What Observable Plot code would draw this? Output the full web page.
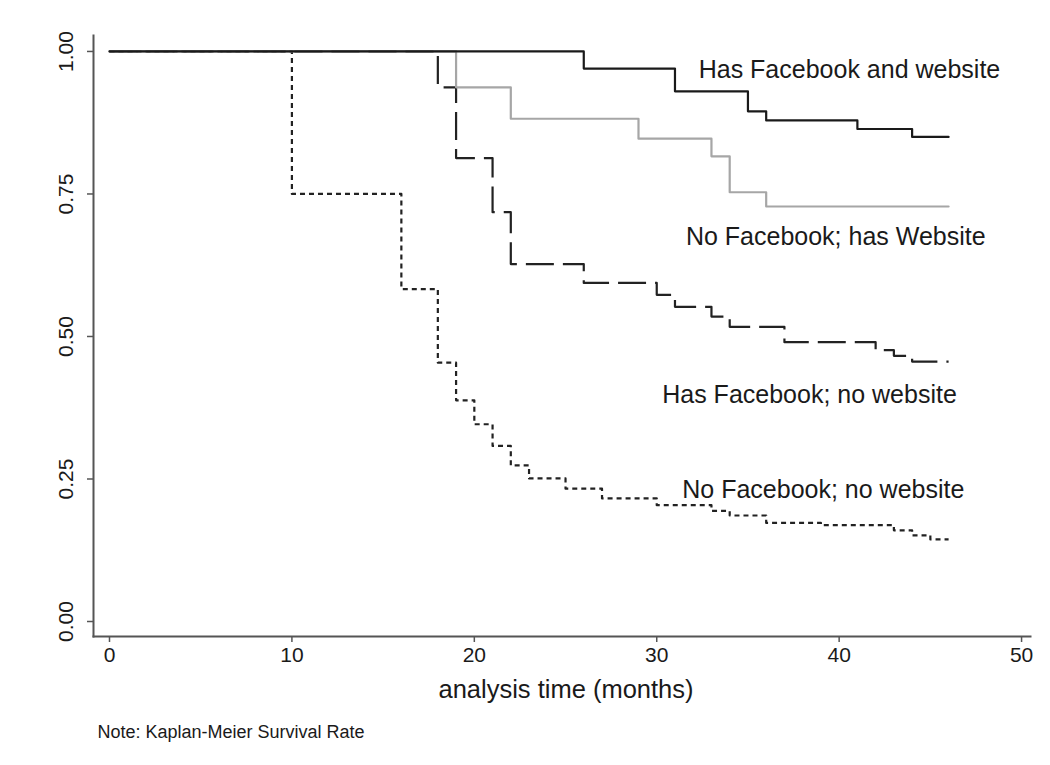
<!DOCTYPE html>
<html>
<head>
<meta charset="utf-8">
<script src="https://cdn.jsdelivr.net/npm/d3@7"></script>
<script src="https://cdn.jsdelivr.net/npm/@observablehq/plot@0.6"></script>
<style>
  html, body { margin: 0; padding: 0; background: #fff; }
  #chart svg { display: block; }
</style>
</head>
<body>
<div id="chart"></div>
<script>
// ---- Data ----
const seriesNames = [
  "Has Facebook and website",
  "No Facebook; has Website",
  "Has Facebook; no website",
  "No Facebook; no website"
];
const fbWebTime = [0, 26, 31, 35, 36, 41, 44, 46];
const fbWebSurv = [1, 0.970, 0.930, 0.895, 0.879, 0.864, 0.850, 0.850];

const noFbWebTime = [0, 19, 22, 29, 33, 34, 36, 46];
const noFbWebSurv = [1, 0.937, 0.882, 0.847, 0.816, 0.753, 0.728, 0.728];

const fbNoWebTime = [0, 18, 19, 21, 22, 26, 30, 31, 33, 34, 37, 42, 43, 44, 46];
const fbNoWebSurv = [1, 0.937, 0.813, 0.718, 0.627, 0.594, 0.573, 0.552, 0.535, 0.517, 0.490, 0.476, 0.466, 0.456, 0.456];

const noFbNoWebTime = [0, 10, 16, 18, 19, 20, 21, 22, 23, 25, 27, 30, 33, 34, 36, 39, 43, 44, 45, 46];
const noFbNoWebSurv = [1, 0.75, 0.583, 0.454, 0.388, 0.346, 0.308, 0.274, 0.251, 0.233, 0.216, 0.204, 0.194, 0.186, 0.173, 0.169, 0.160, 0.151, 0.144, 0.144];

// label anchors (data units: months, survival)
const labelTime = [32.3, 31.6, 30.3, 31.4];
const labelSurv = [0.968, 0.675, 0.397, 0.230];

const xTicks = [0, 10, 20, 30, 40, 50];
const yTicks = [0, 0.25, 0.5, 0.75, 1];
const xTitle = "analysis time (months)";
const note = "Note: Kaplan-Meier Survival Rate";

// ---- Build tables ----
const toRows = (t, s) => t.map((d, i) => ({time: d, surv: s[i]}));
const rowsFbWeb = toRows(fbWebTime, fbWebSurv);
const rowsNoFbWeb = toRows(noFbWebTime, noFbWebSurv);
const rowsFbNoWeb = toRows(fbNoWebTime, fbNoWebSurv);
const rowsNoFbNoWeb = toRows(noFbNoWebTime, noFbNoWebSurv);
const labels = seriesNames.map((n, i) => ({name: n, time: labelTime[i], surv: labelSurv[i]}));

const font = "'Liberation Sans', Arial, Helvetica, sans-serif";
const ink = "#1a1a1a";
const axisColor = "#555";

const chart = Plot.plot({
  width: 1050,
  height: 765,
  marginLeft: 93,
  marginRight: 20,
  marginTop: 35,
  marginBottom: 129,
  style: {fontFamily: font, background: "#fff", color: ink},
  x: {domain: [-0.877, 50.49]},
  y: {domain: [-0.0263, 1.028]},
  marks: [
    Plot.line(rowsNoFbNoWeb, {x: "time", y: "surv", curve: "step-after", stroke: "#222", strokeWidth: 2.2, strokeDasharray: "5,4", strokeLinecap: "butt"}),
    Plot.line(rowsFbNoWeb, {x: "time", y: "surv", curve: "step-after", stroke: "#222", strokeWidth: 2.2, strokeDasharray: "28,9", strokeLinecap: "butt"}),
    Plot.line(rowsNoFbWeb, {x: "time", y: "surv", curve: "step-after", stroke: "#a6a6a6", strokeWidth: 2.2}),
    Plot.line(rowsFbWeb, {x: "time", y: "surv", curve: "step-after", stroke: "#1a1a1a", strokeWidth: 2.2}),
    Plot.text(labels, {x: "time", y: "surv", text: "name", textAnchor: "start", lineAnchor: "middle", fontSize: 25, fill: ink}),
    Plot.frame({anchor: "left", stroke: axisColor, strokeWidth: 2}),
    Plot.frame({anchor: "bottom", stroke: axisColor, strokeWidth: 2}),
    Plot.axisY({ticks: yTicks, tickSize: 6, tickRotate: -90, tickPadding: 15, tickFormat: d3.format(".2f"), fontSize: 21, stroke: axisColor, strokeWidth: 1.5, label: null, fill: ink}),
    Plot.axisX({ticks: xTicks, tickSize: 6, tickPadding: 5, tickFormat: d3.format("d"), fontSize: 21, stroke: axisColor, strokeWidth: 1.5, label: null, fill: ink}),
    Plot.text([xTitle], {frameAnchor: "bottom", dx: 4, dy: 53, lineAnchor: "middle", fontSize: 25.5, fill: ink}),
    Plot.text([note], {frameAnchor: "bottom-left", dx: 4, dy: 96, textAnchor: "start", lineAnchor: "middle", fontSize: 18, fill: ink})
  ]
});
document.getElementById("chart").appendChild(chart);
</script>
</body>
</html>
